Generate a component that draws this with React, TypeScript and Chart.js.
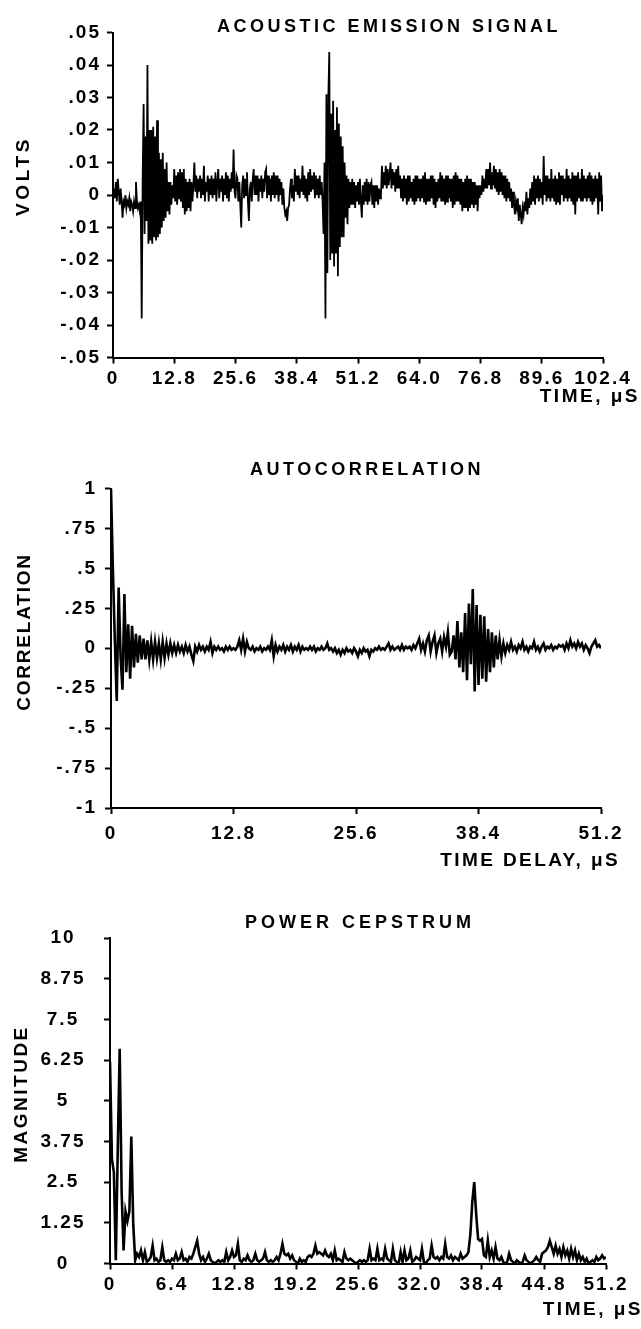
import React, { useEffect, useRef } from "react";
import { Chart, registerables } from "chart.js";

Chart.register(...registerables);

const FONT = '"Liberation Sans", Arial, Helvetica, sans-serif';

// ---------------- Acoustic emission signal (volts), one sample every 0.2 µs ----------------
const emissionStepUs = 0.2;
const emissionVolts = [
  0, .002, -.001, .004, -.002, .005, .001, -.003, .002, -.002,
  -.007, -.002, -.003, .000, -.004, -.002, -.003, -.001, -.005, -.002,
  -.003, -.005, -.002, -.004, .004, -.002, -.004, -.003, -.005, -.002,
  -.038, .005, .028, -.012, .018, -.008, .040, -.015, .020, -.014,
  .020, -.015, .021, -.013, .018, -.014, .023, -.013, .013, -.012,
  .011, -.010, .013, -.008, .008, -.007, .010, -.005, .004, -.006,
  .004, -.003, .003, -.001, .008, -.002, .006, -.003, .007, -.001,
  .008, -.002, .007, -.004, .008, -.006, .005, -.005, .004, -.004,
  .005, -.005, .004, -.002, .003, .010, .001, .006, -.001, .005,
  .001, .006, -.001, .005, .000, .009, -.002, .004, .001, .006,
  -.002, .005, .000, .006, -.001, .005, .000, .007, -.002, .004,
  .008, -.001, .005, .001, .006, -.002, .005, .000, .007, -.001,
  .006, -.002, .005, .001, .007, .002, .014, .001, -.001, .006,
  .005, -.002, .004, -.003, -.010, .003, .006, -.001, .005, .000,
  .007, -.002, -.008, .002, .004, -.002, .005, .008, .000, .006,
  .000, .006, -.002, .005, .001, .006, -.001, .005, .001, .007,
  .008, -.001, .006, .000, .005, -.002, .006, .000, .007, -.001,
  .006, .000, .006, -.002, .005, .000, .004, -.003, .002, -.004,
  -.006, -.005, -.008, -.004, -.003, .002, .005, -.001, .003, -.002,
  .008, .001, .006, .000, .006, -.001, .005, .001, .009, .000,
  .006, -.001, .005, -.002, .007, .000, .008, .001, .006, .002,
  .007, -.001, .006, .000, .005, -.001, .006, .000, .004, -.002,
  -.012, .010, -.038, .031, -.024, .030, .044, -.020, .025, -.018,
  .029, -.022, .020, -.018, .027, -.025, .022, -.016, .018, -.013,
  .015, -.013, .010, -.007, .006, -.009, .005, -.004, .004, -.003,
  .005, -.003, .004, -.004, .003, -.002, .004, -.003, .005, -.002,
  -.007, .003, -.003, .004, -.002, .005, -.003, .004, -.002, .003,
  .004, -.003, .003, -.004, .003, -.002, .003, -.003, .002, -.001,
  .000, .009, .002, .007, .003, .009, .002, .008, .003, .006,
  .010, .002, .008, .003, .007, .001, .008, .002, .009, .002,
  .006, -.001, .005, -.002, .006, -.001, .005, -.003, .006, -.002,
  .006, -.001, .004, -.002, .005, -.003, .006, -.002, .006, -.001,
  .005, -.002, .005, -.001, .006, -.002, .007, -.003, .005, -.002,
  .005, -.002, .006, -.001, .006, -.003, .005, -.004, .004, -.002,
  .005, -.001, .007, -.002, .006, -.002, .005, -.003, .006, -.002,
  .006, -.001, .005, -.002, .005, -.004, .006, -.003, .007, -.002,
  .006, -.002, .005, -.003, .005, -.005, .004, -.004, .005, -.004,
  .006, -.005, .005, -.004, .005, -.003, .004, -.004, .004, -.003,
  .003, -.005, .003, -.001, .003, .000, .006, .001, .005, .002,
  .008, .002, .008, .003, .010, .002, .007, .003, .009, .002,
  .008, .001, .007, .000, .008, .001, .007, .000, .006, -.001,
  .006, -.002, .005, -.001, .004, -.002, .002, -.004, .001, -.003,
  -.006, -.002, -.004, -.001, -.008, -.003, -.006, -.009, -.004, -.006,
  -.002, -.005, .001, -.006, -.001, -.004, .002, -.003, .004, -.002,
  .006, -.003, .005, -.001, .006, -.002, .005, -.001, .004, -.003,
  .012, .000, .006, -.002, .006, -.001, .005, -.002, .008, -.001,
  .005, -.002, .006, -.003, .005, -.002, .007, -.003, .006, .000,
  .006, -.002, .005, -.001, .008, -.002, .006, -.001, .005, -.002,
  .007, -.003, .006, -.006, .006, -.002, .007, -.001, .005, -.002,
  .008, -.002, .006, -.001, .005, -.002, .006, -.001, .007, -.002,
  .006, -.003, .005, -.002, .006, -.001, .005, -.006, .007, -.002,
  .006, -.005, .000,
];
const emissionTimeTicks = [0, 12.8, 25.6, 38.4, 51.2, 64, 76.8, 89.6, 102.4];
const emissionTimeLabels = ["0", "12.8", "25.6", "38.4", "51.2", "64.0", "76.8", "89.6", "102.4"];
const emissionVoltTicks = [-0.05, -0.04, -0.03, -0.02, -0.01, 0, 0.01, 0.02, 0.03, 0.04, 0.05];
const emissionVoltLabels = ["-.05", "-.04", "-.03", "-.02", "-.01", "0", ".01", ".02", ".03", ".04", ".05"];

// ---------------- Autocorrelation, one sample every 0.2 µs of delay ----------------
const autocorrStepUs = 0.2;
const autocorrValues = [
  1, .49, .05, -.33, .38, -.05, -.26, .34, -.15, .15,
  -.19, .14, -.12, .09, -.09, .08, -.07, .06, -.07, .05,
  -.07, .04, -.07, .04, -.06, .03, -.07, .04, -.06, .03,
  -.04, .03, -.03, .02, -.03, .02, -.02, .01, -.03, .02,
  -.02, .01, -.04, -.08, .01, -.02, .02, -.01, .01, -.02,
  .01, -.01, .04, -.03, .01, -.01, .01, -.01, 0, -.02,
  .01, -.01, .01, -.01, 0, -.01, .01, .05, -.01, .06,
  -.02, .04, 0, -.01, .01, -.02, 0, -.01, .01, -.02,
  0, -.01, .01, -.01, .05, -.05, .02, -.02, .01, -.01,
  .02, -.02, .01, -.01, .02, -.02, .01, -.01, .02, -.02,
  .01, -.01, 0, -.01, .01, -.01, .01, -.02, 0, -.01,
  .01, -.01, 0, .03, -.01, 0, -.02, 0, -.03, -.01,
  -.04, -.01, -.03, 0, -.02, -.01, -.03, 0, -.02, -.05,
  -.01, -.03, 0, -.02, -.01, -.05, -.01, -.02, 0, -.01,
  .01, -.01, 0, -.01, .01, .03, -.01, .01, -.01, 0,
  .01, -.01, .02, -.01, .01, 0, .01, -.01, .02, 0,
  .03, .06, -.01, .03, -.02, .05, .08, -.02, .04, .08,
  -.03, .03, .06, -.02, .07, .01, .10, -.04, -.02, .08,
  -.07, .17, -.12, .10, -.15, .22, -.20, .28, -.10, .37,
  -.27, .27, -.23, .21, -.19, .20, -.21, .12, -.15, .10,
  -.12, .08, -.07, .05, -.05, .03, -.03, .02, -.01, .04,
  -.01, .01, -.02, .02, 0, .04, -.01, .01, -.02, .01,
  0, .04, -.01, .01, -.02, .01, .03, -.01, .01, 0,
  .02, -.01, .01, 0, .02, .01, .02, -.01, .03, 0,
  .05, .01, .03, 0, .04, .01, .03, -.01, .02, 0,
  -.03, .01, .03, .05, .01, .02, 0,
];
const autocorrDelayTicks = [0, 12.8, 25.6, 38.4, 51.2];
const autocorrDelayLabels = ["0", "12.8", "25.6", "38.4", "51.2"];
const autocorrTicks = [-1, -0.75, -0.5, -0.25, 0, 0.25, 0.5, 0.75, 1];
const autocorrLabels = ["-1", "-.75", "-.5", "-.25", "0", ".25", ".5", ".75", "1"];

// ---------------- Power cepstrum, one sample every 0.2 µs ----------------
const cepstrumStepUs = 0.2;
const cepstrumMagnitude = [
  6.2, 3.2, 2.8, .1, 3.5, 6.6, 2.2, .4, 1.6, 1.3,
  1.6, 3.9, 1.2, .1, .3, .2, .4, .1, .35, .05,
  .1, .2, .55, .1, .15, .05, .1, .5, .1, .05,
  .1, .05, .15, .1, .3, .1, .15, .35, .1, .15,
  .05, .2, .15, .3, .5, .7, .3, .1, .2, .05,
  .15, .3, .1, .05, 0, .05, .1, .05, .1, .05,
  .35, .1, .2, .4, .2, .25, .6, .1, .05, .15,
  .1, .25, .1, .05, .1, .3, .1, .05, .1, .15,
  .35, .1, .05, .1, .05, .1, .2, .1, .3, .6,
  .3, .25, .3, .15, .25, .1, .05, 0, .15, .05,
  .1, .05, .2, .25, .2, .3, .55, .3, .35, .3,
  .25, .4, .25, .2, .3, .1, .4, .1, .15, .1,
  .05, .35, .15, .1, .15, .1, .05, 0, .05, .1,
  .05, .1, .05, .1, .45, .1, .15, .1, .45, .1,
  .15, .1, .45, .15, .1, .05, .45, .1, .05, 0,
  .35, .05, .4, .1, .15, .4, .05, .1, .2, .15,
  .1, .45, .05, 0, .1, .15, .55, .2, .15, .2,
  .1, .2, .15, .6, .2, .15, .25, .1, .2, .15,
  .1, .3, .15, .2, .25, .35, .9, 1.9, 2.5, 1.5,
  .75, .7, .75, .25, .2, .7, .2, .4, .15, .5,
  .15, .1, .2, .05, 0, .05, .3, .1, .05, 0,
  .1, .05, 0, .05, .25, .1, .05, 0, .05, .1,
  .2, .1, .05, .3, .35, .4, .5, .7, .5, .3,
  .55, .3, .45, .2, .5, .25, .4, .15, .45, .2,
  .4, .1, .3, .1, .2, .05, .15, 0, .05, .1,
  .05, .2, .1, .15, .25, .15, .2,
];
const cepstrumTimeTicks = [0, 6.4, 12.8, 19.2, 25.6, 32, 38.4, 44.8, 51.2];
const cepstrumTimeLabels = ["0", "6.4", "12.8", "19.2", "25.6", "32.0", "38.4", "44.8", "51.2"];
const cepstrumTicks = [0, 1.25, 2.5, 3.75, 5, 6.25, 7.5, 8.75, 10];
const cepstrumLabels = ["0", "1.25", "2.5", "3.75", "5", "6.25", "7.5", "8.75", "10"];

// ---------------- layout / rendering ----------------
type TextItem = {
  text: string;
  x: number;
  y: number;
  align: CanvasTextAlign;
  size: number;
  spacing: number;
  rotate?: boolean;
};
type Panel = {
  top: number;
  height: number;
  values: number[];
  step: number;
  xMax: number;
  xTicks: number[];
  xLabels: string[];
  yMin: number;
  yMax: number;
  yTicks: number[];
  yLabels: string[];
  lineWidth: number;
  padding: { left: number; right: number; top: number; bottom: number };
  yLabelPad: number;
  yCross: "near" | "center";
  xLabelPad: number;
  texts: TextItem[];
};

const figureTextPlugin = {
  id: "figureText",
  beforeDraw(chart: any) {
    chart.ctx.letterSpacing = "2px";
  },
  afterDraw(chart: any, _args: any, opts: any) {
    const ctx = chart.ctx;
    for (const t of opts.items as TextItem[]) {
      ctx.save();
      ctx.font = `bold ${t.size}px ${FONT}`;
      ctx.fillStyle = "#000";
      ctx.letterSpacing = `${t.spacing}px`;
      ctx.textBaseline = "middle";
      ctx.textAlign = t.align;
      ctx.translate(t.x, t.y);
      if (t.rotate) ctx.rotate(-Math.PI / 2);
      ctx.fillText(t.text, 0, 0);
      ctx.restore();
    }
  },
};

function labelFor(ticks: number[], labels: string[], v: number) {
  const i = ticks.findIndex((t) => Math.abs(t - v) < 1e-6);
  return i >= 0 ? labels[i] : "";
}

function buildConfig(p: Panel) {
  const points = p.values.map((v, i) => ({ x: i * p.step, y: v }));
  const tickFont = { family: FONT, size: 19, weight: "bold" as const };
  const grid = {
    display: true,
    drawOnChartArea: false,
    drawTicks: true,
    tickLength: 6,
    tickWidth: 2,
    tickColor: "#000",
    color: "#000",
  };
  const border = { display: true, color: "#000", width: 2 };
  return {
    type: "line",
    data: {
      datasets: [
        {
          data: points,
          borderColor: "#000",
          borderWidth: p.lineWidth,
          pointRadius: 0,
          tension: 0,
          fill: false,
        },
      ],
    },
    options: {
      responsive: false,
      animation: false,
      devicePixelRatio: 1,
      layout: { padding: p.padding },
      plugins: {
        legend: { display: false },
        tooltip: { enabled: false },
        title: { display: false },
        figureText: { items: p.texts },
      },
      scales: {
        x: {
          type: "linear",
          min: 0,
          max: p.xMax,
          grid,
          border,
          afterBuildTicks: (s: any) => {
            s.ticks = p.xTicks.map((v) => ({ value: v }));
          },
          afterFit: (s: any) => {
            s.height = 40;
            s.paddingLeft = 0;
            s.paddingRight = 0;
          },
          ticks: {
            autoSkip: false,
            maxRotation: 0,
            minRotation: 0,
            padding: p.xLabelPad,
            color: "#000",
            font: tickFont,
            callback: (v: any) => labelFor(p.xTicks, p.xLabels, Number(v)),
          },
        },
        y: {
          type: "linear",
          min: p.yMin,
          max: p.yMax,
          grid,
          border,
          afterBuildTicks: (s: any) => {
            s.ticks = p.yTicks.map((v) => ({ value: v }));
          },
          afterFit: (s: any) => {
            s.width = 70;
            s.paddingTop = 0;
            s.paddingBottom = 0;
          },
          ticks: {
            padding: p.yLabelPad,
            crossAlign: p.yCross,
            color: "#000",
            font: tickFont,
            callback: (v: any) => labelFor(p.yTicks, p.yLabels, Number(v)),
          },
        },
      },
    },
    plugins: [figureTextPlugin],
  };
}

const panels: Panel[] = [
  {
    top: 0,
    height: 430,
    values: emissionVolts,
    step: emissionStepUs,
    xMax: 102.4,
    xTicks: emissionTimeTicks,
    xLabels: emissionTimeLabels,
    yMin: -0.05,
    yMax: 0.05,
    yTicks: emissionVoltTicks,
    yLabels: emissionVoltLabels,
    lineWidth: 1.8,
    padding: { left: 43, right: 38, top: 32.5, bottom: 32.5 },
    yLabelPad: 6,
    yCross: "near",
    xLabelPad: 3.8,
    texts: [
      { text: "ACOUSTIC EMISSION SIGNAL", x: 389, y: 27, align: "center", size: 18, spacing: 3.5 },
      { text: "TIME, μS", x: 640, y: 397, align: "right", size: 19, spacing: 2.5 },
      { text: "VOLTS", x: 23.5, y: 176, align: "center", size: 19, spacing: 3.6, rotate: true },
    ],
  },
  {
    top: 440,
    height: 440,
    values: autocorrValues,
    step: autocorrStepUs,
    xMax: 51.2,
    xTicks: autocorrDelayTicks,
    xLabels: autocorrDelayLabels,
    yMin: -1,
    yMax: 1,
    yTicks: autocorrTicks,
    yLabels: autocorrLabels,
    lineWidth: 2.6,
    padding: { left: 41, right: 40, top: 48.5, bottom: 32 },
    yLabelPad: 8,
    yCross: "near",
    xLabelPad: 8.6,
    texts: [
      { text: "AUTOCORRELATION", x: 367, y: 30, align: "center", size: 18, spacing: 3.5 },
      { text: "TIME DELAY, μS", x: 620, y: 421, align: "right", size: 19, spacing: 2.4 },
      { text: "CORRELATION", x: 24.7, y: 192, align: "center", size: 19, spacing: 1.8, rotate: true },
    ],
  },
  {
    top: 880,
    height: 449,
    values: cepstrumMagnitude,
    step: cepstrumStepUs,
    xMax: 51.2,
    xTicks: cepstrumTimeTicks,
    xLabels: cepstrumTimeLabels,
    yMin: 0,
    yMax: 10,
    yTicks: cepstrumTicks,
    yLabels: cepstrumLabels,
    lineWidth: 2.6,
    padding: { left: 40, right: 35, top: 58, bottom: 25.5 },
    yLabelPad: 22.5,
    yCross: "center",
    xLabelPad: 4.1,
    texts: [
      { text: "POWER CEPSTRUM", x: 360, y: 43.5, align: "center", size: 18, spacing: 4 },
      { text: "TIME, μS", x: 643, y: 430, align: "right", size: 19, spacing: 2.5 },
      { text: "MAGNITUDE", x: 22, y: 214, align: "center", size: 19, spacing: 2.5, rotate: true },
    ],
  },
];

function PanelChart({ panel }: { panel: Panel }) {
  const ref = useRef<HTMLCanvasElement>(null);
  useEffect(() => {
    if (!ref.current) return;
    const chart = new Chart(ref.current, buildConfig(panel) as any);
    return () => chart.destroy();
  }, [panel]);
  return (
    <canvas
      ref={ref}
      width={641}
      height={panel.height}
      style={{ position: "absolute", left: 0, top: panel.top, width: 641, height: panel.height, display: "block" }}
    />
  );
}

export default function App() {
  return (
    <div style={{ position: "absolute", left: 0, top: 0, width: 641, height: 1329, background: "#fff", overflow: "hidden" }}>
      {panels.map((p, i) => (
        <PanelChart key={i} panel={p} />
      ))}
    </div>
  );
}
